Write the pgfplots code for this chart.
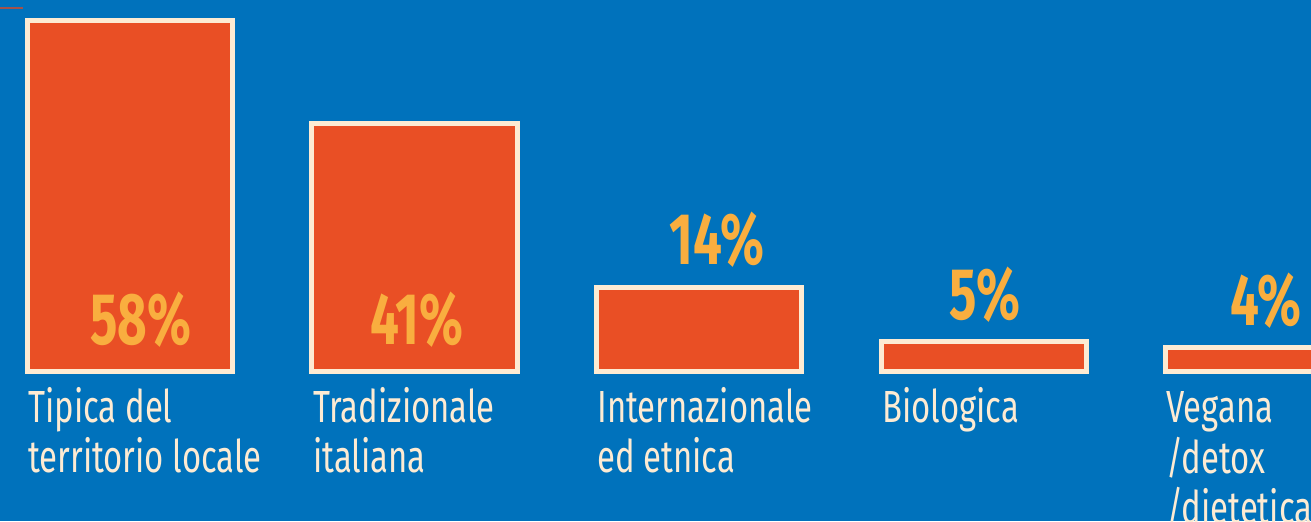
\documentclass[border=0pt]{standalone}
\usepackage{fontspec}
\setmainfont[FakeStretch=0.73]{Fira Sans}
\newfontfamily\pctfont[FakeStretch=0.7]{Fira Sans}
\usepackage{pgfplots}
\pgfplotsset{compat=1.18}
\definecolor{bgblue}{HTML}{0072BC}
\definecolor{barorange}{HTML}{E94F25}
\definecolor{cream}{HTML}{FDEBD3}
\definecolor{pctyellow}{HTML}{F9AE3F}
\definecolor{tickred}{HTML}{A3524B}
\begin{document}
\begin{tikzpicture}[x=0.5pt,y=0.5pt]
\useasboundingbox (0,0) rectangle (1311,521);
\clip (0,0) rectangle (1311,521);
\fill[bgblue] (0,0) rectangle (1311,521);
\draw[tickred, line width=1pt] (0,512.7) -- (23,512.7);
\begin{axis}[
  at={(0,0)}, anchor=south west,
  scale only axis, width=655.5pt, height=260.5pt,
  xmin=-0.4568, xmax=4.1497, ymin=-24.66, ymax=61.45,
  hide axis, clip=false,
  ybar, bar width=0.722,
]
\addplot[fill=barorange, draw=cream, line width=2.5pt] coordinates {(0,58) (1,41) (2,14) (3,5) (4,4)};
\tikzset{pct/.style={anchor=base, inner sep=0pt, text=pctyellow, font=\pctfont\bfseries\fontsize{36.5}{36.5}\selectfont},
         cat/.style={anchor=base west, inner sep=0pt, text=cream, font=\fontsize{22.5}{23.25}\selectfont}}
\node[pct] at (axis cs:0.0387,4.43) {58\%};
\node[pct] at (axis cs:1.0084,4.43) {41\%};
\node[pct] at (axis cs:2.0625,17.7) {14\%};
\node[pct] at (axis cs:3.0042,8.6) {5\%};
\node[pct] at (axis cs:3.9916,7.6) {4\%};
\node[cat] at (axis cs:-0.3584,-8.46) {\begin{tabular}[t]{@{}l@{}}Tipica del\\territorio locale\end{tabular}};
\node[cat] at (axis cs:0.643,-8.46) {\begin{tabular}[t]{@{}l@{}}Tradizionale\\italiana\end{tabular}};
\node[cat] at (axis cs:1.641,-8.46) {\begin{tabular}[t]{@{}l@{}}Internazionale\\ed etnica\end{tabular}};
\node[cat] at (axis cs:2.642,-8.46) {\begin{tabular}[t]{@{}l@{}}Biologica\end{tabular}};
\node[cat] at (axis cs:3.640,-8.46) {\begin{tabular}[t]{@{}l@{}}Vegana\\/detox\\/dietetica\end{tabular}};
\end{axis}
\end{tikzpicture}
\end{document}
